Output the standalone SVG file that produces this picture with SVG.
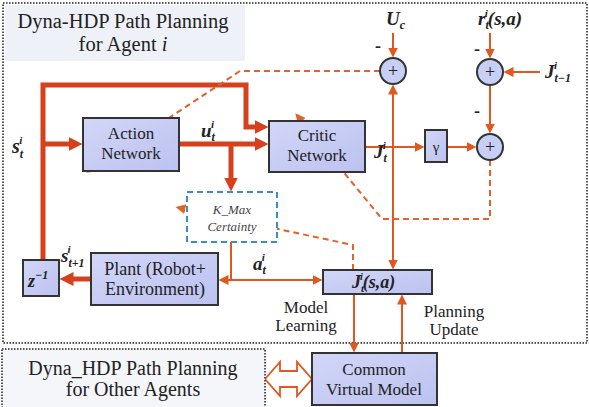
<svg xmlns="http://www.w3.org/2000/svg" width="589" height="407" viewBox="0 0 589 407">
<style>
.box{stroke:#333;stroke-width:2;fill:url(#g)}
.t{font-family:"Liberation Serif",serif;font-size:17px;fill:#222;text-anchor:middle}
.m{font-family:"Liberation Serif",serif;font-weight:bold;font-style:italic;font-size:19px;fill:#222}
.thick{fill:none;stroke:#d4411c;stroke-width:5;stroke-linejoin:miter}
.thin{fill:none;stroke:#e0581f;stroke-width:2}
.dash{fill:none;stroke:#e2622a;stroke-width:2;stroke-dasharray:6,4}
.dot{fill:none;stroke:#555;stroke-width:2;stroke-dasharray:1.5,1.5}
</style>
<defs>
<linearGradient id="g" x1="0" y1="0" x2="1" y2="1">
<stop offset="0" stop-color="#d2d6f8"/><stop offset="1" stop-color="#bcc2f0"/>
</linearGradient>
<marker id="ah" markerUnits="userSpaceOnUse" markerWidth="16" markerHeight="16" refX="0.5" refY="8" orient="auto"><path d="M0,1 L14,8 L0,15 z" fill="#d4411c"/></marker>
<marker id="at" markerUnits="userSpaceOnUse" markerWidth="12" markerHeight="12" refX="0.5" refY="6" orient="auto"><path d="M0,1 L10,6 L0,11 z" fill="#e0581f"/></marker>
<marker id="ad" markerUnits="userSpaceOnUse" markerWidth="12" markerHeight="12" refX="0.5" refY="6" orient="auto"><path d="M0,1 L10,6 L0,11 z" fill="#e2622a"/></marker>
</defs>
<rect width="589" height="407" fill="#fff"/>
<rect class="dot" x="3" y="3" width="584" height="340"/>
<g id="title">
<rect x="5" y="5" width="240" height="56" fill="#eef1f7"/>
<text class="t" x="123" y="28" style="font-size:20.5px">Dyna-HDP Path Planning</text>
<text class="t" x="123" y="51" style="font-size:20.5px">for Agent <tspan font-style="italic">i</tspan></text>
</g>
<g id="connectors">
<path class="thick" d="M43,262 V85 H246 V127 H255" marker-end="url(#ah)"/>
<path class="thick" d="M43,144 H69" marker-end="url(#ah)"/>
<path class="thick" d="M179,144 H255" marker-end="url(#ah)"/>
<path class="thick" d="M231,144 V178" marker-end="url(#ah)"/>
<path class="thick" d="M91,279 H73" marker-end="url(#ah)"/>
<path class="thin" d="M231,242 V280 H228" marker-end="url(#at)"/>
<path class="thin" d="M231,280 H313" marker-end="url(#at)"/>
<path class="thin" d="M365,147 H415" marker-end="url(#at)"/>
<path class="thin" d="M393,147 V94" marker-end="url(#at)"/>
<path class="thin" d="M393,147 V260" marker-end="url(#at)"/>
<path class="thin" d="M393,33 V48" marker-end="url(#at)"/>
<path class="thin" d="M447,147 H467" marker-end="url(#at)"/>
<path class="thin" d="M490,33 V49" marker-end="url(#at)"/>
<path class="thin" d="M540,72 H513" marker-end="url(#at)"/>
<path class="thin" d="M490,85 V124" marker-end="url(#at)"/>
<path class="thin" d="M354,294 V343" marker-end="url(#at)"/>
<path class="thin" d="M402,353 V304" marker-end="url(#at)"/>
<path class="dash" d="M490,160 V219 H382 L301.4,120.7" marker-end="url(#ad)"/>
<path class="dash" d="M380,71 H240 L94.3,167.4" marker-end="url(#ad)"/>
<path class="dash" d="M353,270 V245 L184.8,209.1" marker-end="url(#ad)"/>
<polygon points="265,379 280,362 280,371 297,371 297,362 312,379 297,396 297,387 280,387 280,396" fill="#fff" stroke="#e0581f" stroke-width="1.8"/>
</g>
<g id="action">
<rect class="box" x="83" y="118" width="96" height="53"/>
<text class="t" x="131" y="139">Action</text>
<text class="t" x="131" y="159">Network</text>
</g>
<g id="critic">
<rect class="box" x="269" y="121" width="96" height="51"/>
<text class="t" x="317" y="141">Critic</text>
<text class="t" x="317" y="161">Network</text>
</g>
<g id="gamma">
<rect class="box" x="425" y="130" width="22" height="32"/>
<text class="t" x="436" y="152" style="font-size:15px">γ</text>
</g>
<g id="sumU">
<circle cx="393" cy="71" r="13" fill="#c8cff5" stroke="#333" stroke-width="2"/>
<text class="t" x="393" y="77" style="font-size:18px">+</text>
</g>
<g id="sumR">
<circle cx="490" cy="72" r="13" fill="#c8cff5" stroke="#333" stroke-width="2"/>
<text class="t" x="490" y="78" style="font-size:18px">+</text>
</g>
<g id="sumB">
<circle cx="490" cy="147" r="13" fill="#c8cff5" stroke="#333" stroke-width="2"/>
<text class="t" x="490" y="153" style="font-size:18px">+</text>
</g>
<g id="kmax">
<rect x="187" y="192" width="90" height="50" fill="#fff" stroke="#3a8fc0" stroke-width="2" stroke-dasharray="6,4"/>
<text class="t" x="232" y="214" style="font-size:13px;font-style:italic;fill:#444">K_Max</text>
<text class="t" x="232" y="231" style="font-size:13px;font-style:italic;fill:#444">Certainty</text>
</g>
<g id="plant">
<rect class="box" x="91" y="253" width="127" height="52"/>
<text class="t" x="155" y="275" style="font-size:18px">Plant (Robot+</text>
<text class="t" x="155" y="295" style="font-size:18px">Environment)</text>
</g>
<g id="zinv">
<rect class="box" x="23" y="260" width="36" height="36"/>
<text class="m" x="28" y="287" style="font-size:18px">z<tspan dy="-8" font-size="12">−1</tspan></text>
</g>
<g id="jbox">
<rect class="box" x="323" y="270" width="109" height="24"/>
<text class="m" x="352" y="288" style="font-size:18px">J<tspan dy="4" font-size="11">t</tspan><tspan dx="-4" dy="-12" font-size="10">i</tspan><tspan dy="8">(s,a)</tspan></text>
</g>
<g id="cvm">
<rect class="box" x="312" y="353" width="125" height="52"/>
<text class="t" x="374" y="375">Common</text>
<text class="t" x="374" y="395">Virtual Model</text>
</g>
<g id="others">
<rect class="dot" x="2" y="349" width="263" height="62" style="fill:#f4f6fa"/>
<text class="t" x="133" y="375" style="font-size:20px">Dyna_HDP Path Planning</text>
<text class="t" x="133" y="396" style="font-size:20px">for Other Agents</text>
</g>
<g id="labels">
<text class="m" x="12" y="153" style="font-size:20px">s<tspan dy="5" font-size="12">t</tspan><tspan dx="-4" dy="-14" font-size="11">i</tspan></text>
<text class="m" x="201" y="137">u<tspan dy="4" font-size="12">t</tspan><tspan dx="-4" dy="-13" font-size="11">i</tspan></text>
<text class="m" x="386" y="25">U<tspan dy="4" font-size="12">c</tspan></text>
<text class="m" x="478" y="25">r<tspan dy="4" font-size="12">t</tspan><tspan dx="-4" dy="-12" font-size="11">i</tspan><tspan dy="8">(s,a)</tspan></text>
<text class="m" x="545" y="78">J<tspan dy="4" font-size="12">t−1</tspan><tspan dx="-17" dy="-13" font-size="11">i</tspan></text>
<text class="m" x="374" y="158">J<tspan dy="4" font-size="12">t</tspan><tspan dx="-4" dy="-13" font-size="11">i</tspan></text>
<text class="m" x="253" y="270">a<tspan dy="4" font-size="12">t</tspan><tspan dx="-4" dy="-13" font-size="11">i</tspan></text>
<text class="m" x="61" y="262">s<tspan dy="5" font-size="12">t+1</tspan><tspan dx="-17" dy="-14" font-size="11">i</tspan></text>
<text class="t" x="378" y="52" style="font-size:18px;font-weight:bold">-</text>
<text class="t" x="477" y="55" style="font-size:18px;font-weight:bold">-</text>
<text class="t" x="477" y="117" style="font-size:18px;font-weight:bold">-</text>
<text class="t" x="306" y="313">Model</text>
<text class="t" x="306" y="331">Learning</text>
<text class="t" x="454" y="317">Planning</text>
<text class="t" x="454" y="335">Update</text>
</g>
</svg>
